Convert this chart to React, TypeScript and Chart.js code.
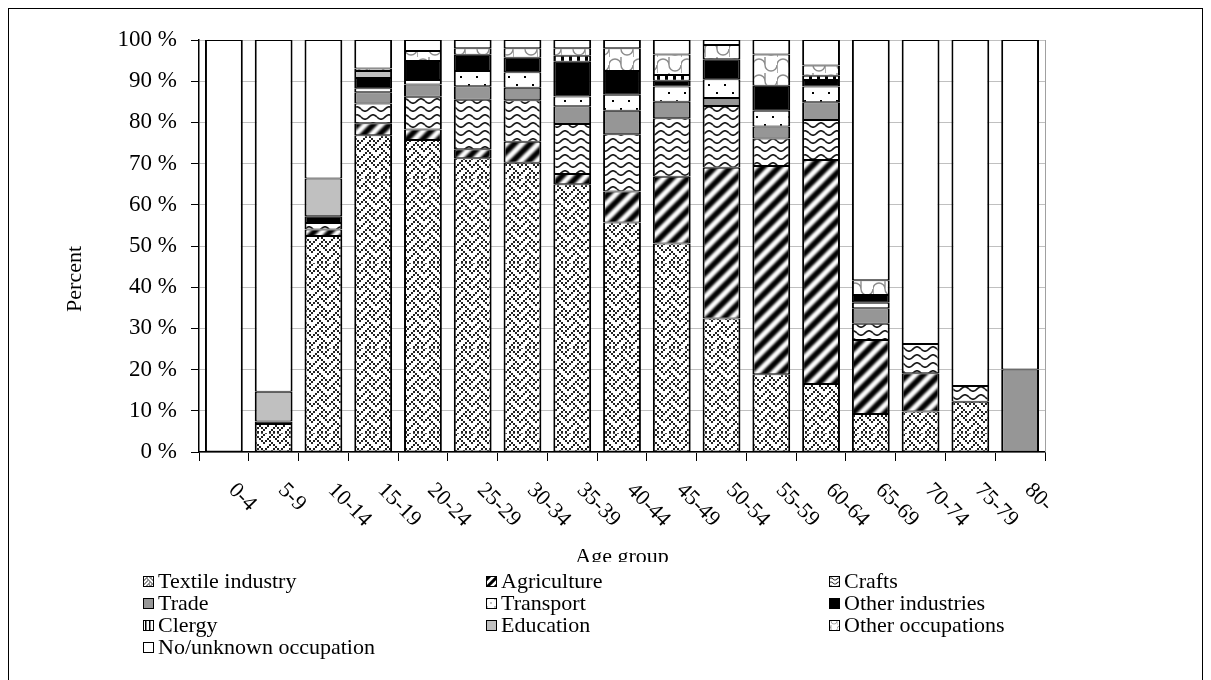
import React, { useEffect, useRef } from "react";
import { Chart, registerables } from "chart.js";

Chart.register(...registerables);

const FONT = '"Liberation Serif", "Times New Roman", Times, serif';

// Age groups on the category axis
const ageGroups = ["0-4", "5-9", "10-14", "15-19", "20-24", "25-29", "30-34", "35-39", "40-44", "45-49", "50-54", "55-59", "60-64", "65-69", "70-74", "75-79", "80-"];

// Share of each occupational group (percent of the age group)
const textileIndustry = [0, 6.8, 52.4, 76.9, 75.7, 71.3, 70.2, 65.0, 55.7, 50.6, 32.4, 18.9, 16.5, 9.2, 9.8, 12.2, 0];
const agriculture = [0, 0, 1.6, 2.9, 2.6, 2.2, 5.1, 2.5, 7.5, 16.2, 36.6, 50.5, 54.4, 18.0, 9.3, 0, 0];
const crafts = [0, 0, 1.6, 4.8, 7.9, 12.0, 10.1, 12.1, 13.9, 14.2, 15.0, 6.7, 9.7, 3.9, 7.1, 3.8, 0];
const trade = [0, 0, 0, 2.7, 3.0, 3.3, 3.0, 4.3, 5.7, 4.0, 1.9, 2.9, 4.3, 3.8, 0, 0, 20.0];
const transport = [0, 0, 0, 1.0, 1.1, 3.7, 3.8, 2.4, 3.9, 3.7, 4.6, 3.8, 3.8, 1.3, 0, 0, 0];
const otherIndustries = [0, 0.6, 1.6, 2.5, 4.6, 3.9, 3.5, 8.4, 5.8, 1.4, 4.8, 6.1, 1.6, 1.9, 0, 0, 0];
const clergy = [0, 0, 0, 0, 0, 0, 0, 1.5, 0, 1.4, 0, 0, 1.0, 0, 0, 0, 0];
const education = [0, 7.2, 9.2, 1.7, 0, 0, 0, 0, 0, 0, 0, 0, 0, 0, 0, 0, 0];
const otherOccupations = [0, 0, 0, 0.6, 2.4, 1.6, 2.3, 1.8, 5.5, 5.0, 3.5, 7.6, 2.5, 3.6, 0, 0, 0];
const noUnknownOccupation = [100, 85.4, 33.6, 6.9, 2.7, 2.0, 2.0, 2.0, 2.0, 3.5, 1.2, 3.5, 6.2, 58.3, 73.8, 84.0, 80.0];

// Value axis tick labels
const percentTicks = ["0 %", "10 %", "20 %", "30 %", "40 %", "50 %", "60 %", "70 %", "80 %", "90 %", "100 %"];

type Painter = (g: CanvasRenderingContext2D, w: number, h: number) => void;
type Fill = { kind: "solid"; color: string } | { kind: "tile"; w: number; h: number; blur: number; paint: Painter };

// Woven texture: 8x8 bitmap drawn at double size, with a faint seam every tile
const WEAVE = [0x11, 0x2a, 0x44, 0xa2, 0x11, 0x28, 0x44, 0x8a];
const paintWeave: Painter = (g, w, h) => {
  g.fillStyle = "#222";
  for (let y = 0; y < h; y++) {
    const row = WEAVE[Math.floor(y / 2) % 8];
    for (let x = 0; x < 8; x++) if (row & (0x80 >> x)) g.fillRect(x * 2, y, 2, 1);
  }
  g.fillStyle = "#fff";
  g.fillRect(0, h - 1, w, 1);
  g.fillStyle = "#555";
  for (let x = 0; x < w; x += 4) g.fillRect(x, h - 1, 2, 1);
};
const paintDiagonal: Painter = (g, w, h) => {
  g.strokeStyle = "#000";
  g.lineWidth = 6;
  g.beginPath();
  for (const k of [-w, 0, w]) {
    g.moveTo(k - 2, h + 2);
    g.lineTo(k + w + 2, -2);
  }
  g.stroke();
};
const paintWave: Painter = (g, w, h) => {
  g.strokeStyle = "#1a1a1a";
  g.lineWidth = 1.7;
  g.beginPath();
  for (let x = 0; x <= w; x += 0.5) {
    const y = h / 2 + 2.2 * Math.sin((x / w) * Math.PI * 2);
    if (x === 0) g.moveTo(x, y);
    else g.lineTo(x, y);
  }
  g.stroke();
};
const paintDots: Painter = (g) => {
  g.fillStyle = "#000";
  g.fillRect(3, 3, 2, 2);
  g.fillRect(11, 11, 2, 2);
};
const paintBars: Painter = (g, _w, h) => {
  g.fillStyle = "#000";
  g.fillRect(0, 0, 3, h);
};
const paintScallops: Painter = (g, w, h) => {
  g.strokeStyle = "#8c8c8c";
  g.lineWidth = 1.4;
  const r = w / 4;
  g.beginPath();
  g.arc(r, h / 2, r, Math.PI, 0);
  g.moveTo(3 * r + r, h / 2);
  g.arc(3 * r, h / 2, r, 0, Math.PI);
  g.moveTo(0, h / 2);
  g.lineTo(0, h);
  g.moveTo(2 * r, h / 2);
  g.lineTo(2 * r, 0);
  g.stroke();
};

const series: { name: string; values: number[]; fill: Fill }[] = [
  { name: "Textile industry", values: textileIndustry, fill: { kind: "tile", w: 16, h: 85, blur: 0.45, paint: paintWeave } },
  { name: "Agriculture", values: agriculture, fill: { kind: "tile", w: 16, h: 16, blur: 1, paint: paintDiagonal } },
  { name: "Crafts", values: crafts, fill: { kind: "tile", w: 16, h: 8, blur: 0.4, paint: paintWave } },
  { name: "Trade", values: trade, fill: { kind: "solid", color: "#969696" } },
  { name: "Transport", values: transport, fill: { kind: "tile", w: 16, h: 16, blur: 0.3, paint: paintDots } },
  { name: "Other industries", values: otherIndustries, fill: { kind: "solid", color: "#000000" } },
  { name: "Clergy", values: clergy, fill: { kind: "tile", w: 8, h: 8, blur: 0.3, paint: paintBars } },
  { name: "Education", values: education, fill: { kind: "solid", color: "#c0c0c0" } },
  { name: "Other occupations", values: otherOccupations, fill: { kind: "tile", w: 24, h: 16, blur: 0.4, paint: paintScallops } },
  { name: "No/unknown occupation", values: noUnknownOccupation, fill: { kind: "solid", color: "#ffffff" } },
];

function makeTile(f: { w: number; h: number; blur: number; paint: Painter }, scale: number): HTMLCanvasElement {
  const w = f.w;
  const h = f.h;
  const big = document.createElement("canvas");
  big.width = w * 3;
  big.height = h * 3;
  const g = big.getContext("2d")!;
  g.fillStyle = "#fff";
  g.fillRect(0, 0, w * 3, h * 3);
  for (let ty = 0; ty < 3; ty++)
    for (let tx = 0; tx < 3; tx++) {
      g.save();
      g.beginPath();
      g.rect(tx * w, ty * h, w, h);
      g.clip();
      g.translate(tx * w, ty * h);
      f.paint(g, w, h);
      g.restore();
    }
  const tw = Math.max(1, Math.round(w * scale));
  const th = Math.max(1, Math.round(h * scale));
  const tile = document.createElement("canvas");
  tile.width = tw;
  tile.height = th;
  const t = tile.getContext("2d")!;
  if (f.blur > 0 && scale === 1) t.filter = `blur(${f.blur}px)`;
  t.drawImage(big, -tw, -th, w * 3 * scale, h * 3 * scale);
  return tile;
}

function fillStyleFor(ctx: CanvasRenderingContext2D, fill: Fill, scale: number): string | CanvasPattern {
  if (fill.kind === "solid") return fill.color;
  return ctx.createPattern(makeTile(fill, scale), "repeat") as CanvasPattern;
}

const TEXT_SIZE = 22;
const TICK_SIZE = 23;
const LEGEND_SIZE = 22;
const legendColumns = [134, 477, 820];
const legendTop = 572;
const legendRow = 22;

// Category labels hang diagonally below the axis, starting at each category
const slantedLabels = {
  id: "slantedLabels",
  afterDraw(chart: any) {
    const { ctx } = chart;
    const x = chart.scales.x;
    ctx.save();
    ctx.font = `${TEXT_SIZE}px ${FONT}`;
    ctx.fillStyle = "#000";
    ctx.textAlign = "left";
    ctx.textBaseline = "middle";
    ageGroups.forEach((label, i) => {
      const px = x.getPixelForValue(i);
      ctx.save();
      ctx.translate(px + 8, x.top + 35);
      ctx.rotate(Math.PI / 4);
      ctx.fillText(label, 0, 0);
      ctx.restore();
    });
    ctx.restore();
  },
};

// Value axis title, set a little below the middle of the axis
const valueTitle = {
  id: "valueTitle",
  afterDraw(chart: any) {
    const { ctx } = chart;
    const y = chart.scales.y;
    ctx.save();
    ctx.font = `${TEXT_SIZE}px ${FONT}`;
    ctx.fillStyle = "#000";
    ctx.textAlign = "center";
    ctx.textBaseline = "middle";
    ctx.translate(66, y.getPixelForValue(42));
    ctx.rotate(-Math.PI / 2);
    ctx.fillText("Percent", 0, 0);
    ctx.restore();
  },
};

// Legend laid out in three fixed columns below the axis title
const gridLegend = {
  id: "gridLegend",
  afterDraw(chart: any) {
    const { ctx, width, height } = chart;
    ctx.save();
    ctx.fillStyle = "#fff";
    ctx.fillRect(0, legendTop - 19, width, height - legendTop + 19);
    ctx.font = `${LEGEND_SIZE}px ${FONT}`;
    ctx.textAlign = "left";
    ctx.textBaseline = "middle";
    chart.data.datasets.forEach((ds: any, i: number) => {
      const lx = legendColumns[i % 3];
      const cy = legendTop + Math.floor(i / 3) * legendRow;
      const top = Math.round(cy - 5.5);
      ctx.fillStyle = fillStyleFor(ctx, series[i].fill, 0.5);
      ctx.fillRect(lx, top, 11, 11);
      ctx.strokeStyle = "#000";
      ctx.lineWidth = 1;
      ctx.strokeRect(lx + 0.5, top + 0.5, 10, 10);
      ctx.fillStyle = "#000";
      ctx.fillText(ds.label, lx + 15, cy + 1);
    });
    ctx.restore();
  },
};

// Light frame on the right side of the plot area
const plotFrame = {
  id: "plotFrame",
  beforeDatasetsDraw(chart: any) {
    const { ctx, chartArea } = chart;
    ctx.save();
    ctx.strokeStyle = "#a0a0a0";
    ctx.lineWidth = 1;
    ctx.beginPath();
    ctx.moveTo(Math.round(chartArea.right) + 0.5, chartArea.top);
    ctx.lineTo(Math.round(chartArea.right) + 0.5, chartArea.bottom);
    ctx.stroke();
    ctx.restore();
  },
};

export default function App() {
  const canvasRef = useRef<HTMLCanvasElement>(null);

  useEffect(() => {
    document.documentElement.style.overflow = "hidden";
    const canvas = canvasRef.current!;
    const ctx = canvas.getContext("2d")!;
    const chart = new Chart(ctx, {
      type: "bar",
      data: {
        labels: ageGroups,
        datasets: series.map((s) => ({
          label: s.name,
          data: s.values.map((v) => (v === 0 ? null : v)),
          backgroundColor: fillStyleFor(ctx, s.fill, 1),
          borderColor: "#000",
          borderWidth: { left: 2, right: 2, top: 1, bottom: 1 },
          borderSkipped: false,
          barPercentage: 0.76,
          categoryPercentage: 1,
          stack: "all",
        })) as any,
      },
      options: {
        responsive: false,
        animation: false,
        devicePixelRatio: 1,
        layout: { padding: { left: 50, top: 31, right: 157, bottom: 125 } },
        plugins: { legend: { display: false }, tooltip: { enabled: false } },
        scales: {
          x: {
            stacked: true,
            grid: { display: true, drawOnChartArea: false, drawTicks: true, tickLength: 9, color: "#000", offset: true },
            border: { display: true, color: "#000", width: 1.5 },
            ticks: { display: false },
            title: { display: true, text: "Age group", color: "#000", font: { family: FONT, size: TEXT_SIZE }, padding: { top: 0, bottom: 4 } },
            afterFit: (s: any) => {
              s.height = 122;
            },
          },
          y: {
            stacked: true,
            min: 0,
            max: 100,
            ticks: {
              stepSize: 10,
              color: "#000",
              font: { family: FONT, size: TICK_SIZE },
              padding: 14,
              callback: (_v: any, i: number) => percentTicks[i],
            },
            grid: { color: "#c0c0c0", lineWidth: 1, tickColor: "#000", tickLength: 8, drawTicks: true },
            border: { display: true, color: "#000", width: 1.5 },
            afterFit: (s: any) => {
              s.width = 140;
            },
          },
        },
      },
      plugins: [plotFrame, slantedLabels, valueTitle, gridLegend],
    });
    return () => chart.destroy();
  }, []);

  return (
    <div style={{ position: "relative", width: 1193, height: 690, border: "1px solid #000", background: "#fff" }}>
      <canvas ref={canvasRef} width={1193} height={690} style={{ display: "block" }} />
    </div>
  );
}
